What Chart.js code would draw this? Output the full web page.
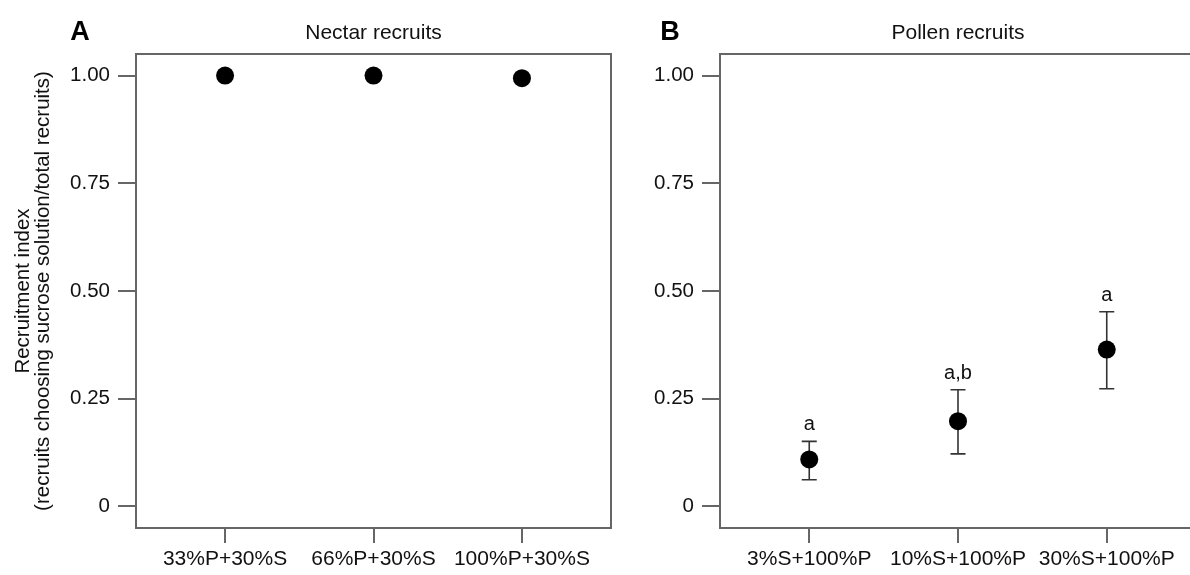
<!DOCTYPE html>
<html><head><meta charset="utf-8">
<script src="https://cdn.jsdelivr.net/npm/chart.js@4"></script>
<style>
html,body{margin:0;padding:0;background:#fff;overflow:hidden;width:1190px;height:575px;}
#wrapA{position:absolute;left:0;top:0;width:620px;height:575px;}
#wrapB{position:absolute;left:615px;top:0;width:600px;height:575px;}
canvas{display:block;}
</style></head><body>
<div id="wrapA"><canvas id="cA" width="620" height="575" style="width:620px;height:575px"></canvas></div>
<div id="wrapB"><canvas id="cB" width="600" height="575" style="width:600px;height:575px"></canvas></div>
<script>
// ---- data ----
const nectarCategories = ['33%P+30%S', '66%P+30%S', '100%P+30%S'];
const nectarValues = [1.0, 1.0, 0.994];

const pollenCategories = ['3%S+100%P', '10%S+100%P', '30%S+100%P'];
const pollenValues = [0.109, 0.198, 0.364];
const pollenUpper = [0.151, 0.271, 0.452];
const pollenLower = [0.062, 0.122, 0.273];
const pollenLetters = ['a', 'a,b', 'a'];

const yTickValues = [0, 0.25, 0.5, 0.75, 1];
const yTickLabels = ['0', '0.25', '0.50', '0.75', '1.00'];

const panelTitles = ['Nectar recruits', 'Pollen recruits'];
const panelLetters = ['A', 'B'];
const yAxisTitle = ['Recruitment index', '(recruits choosing sucrose solution/total recruits)'];

// ---- style ----
const FONT = "'Liberation Sans', Arial, sans-serif";
const TXT = '#111111';
const AX = '#666666';

const boxPlugin = {
  id: 'boxPlugin',
  beforeDatasetsDraw(chart) {
    const o = chart.options.plugins.boxPlugin || {};
    const ctx = chart.ctx;
    const ca = chart.chartArea;
    ctx.save();
    ctx.strokeStyle = AX;
    ctx.lineWidth = 2;
    ctx.strokeRect(ca.left, ca.top, ca.right - ca.left, ca.bottom - ca.top);
    if (o.upper && o.lower) {
      const xs = chart.scales.x, ys = chart.scales.y;
      ctx.strokeStyle = '#333';
      ctx.lineWidth = 1.6;
      o.upper.forEach((u, i) => {
        const x = xs.getPixelForValue(i);
        const yu = ys.getPixelForValue(u);
        const yl = ys.getPixelForValue(o.lower[i]);
        ctx.beginPath();
        ctx.moveTo(x, yu); ctx.lineTo(x, yl);
        ctx.moveTo(x - 7.5, yu); ctx.lineTo(x + 7.5, yu);
        ctx.moveTo(x - 7.5, yl); ctx.lineTo(x + 7.5, yl);
        ctx.stroke();
      });
      if (o.letters) {
        ctx.fillStyle = TXT;
        ctx.font = '20px ' + FONT;
        ctx.textAlign = 'center';
        ctx.textBaseline = 'alphabetic';
        o.letters.forEach((t, i) => {
          const x = xs.getPixelForValue(i);
          const yu = ys.getPixelForValue(o.upper[i]);
          ctx.fillText(t, x, yu - 11);
        });
      }
    }
    ctx.restore();
  },
  afterDraw(chart) {
    const o = chart.options.plugins.boxPlugin || {};
    if (!o.letter) return;
    const ctx = chart.ctx;
    ctx.save();
    ctx.fillStyle = '#000';
    ctx.font = 'bold 27px ' + FONT;
    ctx.textAlign = 'center';
    ctx.textBaseline = 'middle';
    ctx.fillText(o.letter, chart.chartArea.left + o.letterDx, 33);
    ctx.restore();
  }
};

function makeChart(id, cats, values, opts) {
  const yScale = {
    type: 'linear', min: -0.05, max: 1.05,
    afterBuildTicks: s => { s.ticks = yTickValues.map(v => ({ value: v })); },
    ticks: { callback: (v, i) => yTickLabels[i], font: { family: FONT, size: 20.5 }, color: TXT, padding: 8 },
    grid: { drawOnChartArea: false, drawTicks: true, tickLength: 18, tickColor: AX, lineWidth: 2, color: AX },
    border: { display: true, color: AX, width: 2 },
    afterFit: s => { s.width = opts.yWidth; }
  };
  if (opts.yTitle) {
    yScale.title = {
      display: true, text: opts.yTitle, color: TXT,
      font: { family: FONT, size: 20.5, lineHeight: '20px' },
      padding: { top: 13, bottom: 0 }
    };
  }
  return new Chart(document.getElementById(id), {
    type: 'scatter',
    data: {
      datasets: [{
        data: values.map((v, i) => ({ x: i, y: v })),
        backgroundColor: '#000', borderColor: '#000', borderWidth: 0,
        pointRadius: 9, pointHoverRadius: 9, showLine: false, clip: false
      }]
    },
    options: {
      responsive: false, animation: false, events: [],
      layout: { padding: { top: 0, left: 0, right: opts.padRight, bottom: 0 } },
      scales: {
        x: {
          type: 'linear', min: -0.6, max: 2.6,
          afterBuildTicks: s => { s.ticks = cats.map((c, i) => ({ value: i })); },
          ticks: { callback: (v, i) => cats[i], autoSkip: false, maxRotation: 0, minRotation: 0,
                   font: { family: FONT, size: 21 }, color: TXT, padding: 4 },
          grid: { drawOnChartArea: false, drawTicks: true, tickLength: 15, tickColor: AX, lineWidth: 2, color: AX },
          border: { display: true, color: AX, width: 2 },
          afterFit: s => { s.height = 47; }
        },
        y: yScale
      },
      plugins: {
        legend: { display: false },
        tooltip: { enabled: false },
        title: {
          display: true, text: opts.title, fullSize: false, color: TXT,
          font: { family: FONT, size: 21, weight: 'normal', lineHeight: 1.2 },
          padding: { top: 21, bottom: 7.8 }
        },
        boxPlugin: opts.box
      }
    },
    plugins: [boxPlugin]
  });
}

makeChart('cA', nectarCategories, nectarValues, {
  yWidth: 136, padRight: 8, title: panelTitles[0], yTitle: yAxisTitle,
  box: { letter: panelLetters[0], letterDx: -56 }
});
makeChart('cB', pollenCategories, pollenValues, {
  yWidth: 105, padRight: 19, title: panelTitles[1], yTitle: null,
  box: { letter: panelLetters[1], letterDx: -50, upper: pollenUpper, lower: pollenLower, letters: pollenLetters }
});
</script>
</body></html>
